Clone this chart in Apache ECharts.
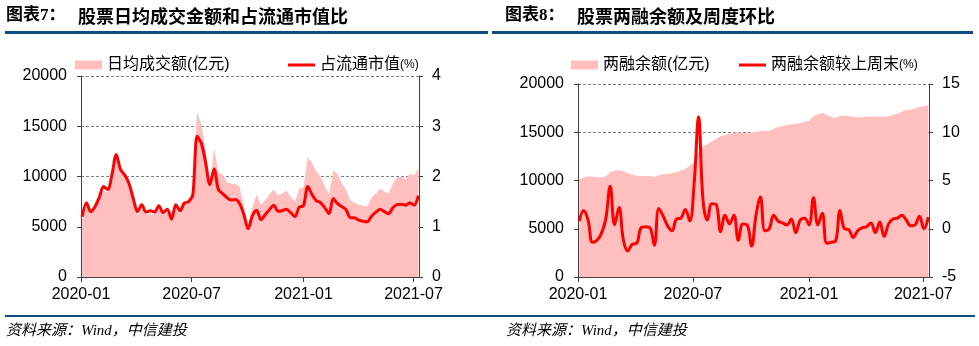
<!DOCTYPE html>
<html><head><meta charset="utf-8">
<script src="https://cdn.jsdelivr.net/npm/echarts@6/dist/echarts.min.js"></script>
<style>html,body{margin:0;padding:0;background:#fff}#c{width:979px;height:346px}</style>
</head><body><div id="c"></div>
<script>
// weekly observations, first Friday of 2020, 80 weeks
const weekStart = [2020, 0, 3];
const weekCount = 80;
const xTickLabels = ['2020-01', '2020-07', '2021-01', '2021-07'];

// Chart 7: 日均成交额 (亿元) and 占流通市值 (%)
const turnover = [5600,7100,6300,6800,7600,8600,8400,9800,11800,10500,
 9900,9100,7500,6100,6900,6200,6300,6200,6800,6200,
 6500,5600,6900,6400,7200,7500,8500,16400,15200,12600,
 9300,12800,10400,10200,9400,9300,9250,9000,7000,5000,
 7000,8200,7200,7600,8200,8700,8100,8300,8600,8000,
 7500,8800,8900,11900,11400,10500,10000,9000,8200,10600,
 10300,9300,8700,7600,7400,7200,7100,7000,7900,8300,
 8800,8500,8300,9300,9900,10000,9700,10300,10100,10800];
const turnoverPct = [1.2,1.48,1.3,1.4,1.58,1.8,1.74,2.04,2.44,2.14,
 2.03,1.86,1.56,1.3,1.44,1.29,1.32,1.29,1.42,1.28,
 1.35,1.15,1.44,1.32,1.47,1.5,1.64,2.8,2.66,2.28,
 1.84,2.15,1.74,1.66,1.58,1.53,1.54,1.46,1.24,0.96,
 1.22,1.33,1.14,1.24,1.34,1.43,1.31,1.32,1.35,1.28,
 1.2,1.39,1.42,1.8,1.64,1.52,1.48,1.38,1.26,1.56,
 1.46,1.4,1.34,1.18,1.18,1.13,1.11,1.1,1.21,1.29,
 1.35,1.3,1.26,1.38,1.44,1.45,1.43,1.48,1.43,1.62];

// Chart 8: 两融余额 (亿元) and 较上周末 (%)
const marginBalance = [10100,10300,10450,10400,10330,10330,10400,10900,11000,11100,
 10950,10750,10600,10500,10460,10460,10460,10350,10550,10650,
 10700,10750,10850,11000,11200,11500,11900,13000,13550,13750,
 14050,14300,14600,14700,14850,14950,14990,14900,14950,14950,
 15050,15150,15150,15160,15350,15550,15650,15750,15820,15850,
 15950,16100,16200,16650,16850,17020,16800,16600,16450,16700,
 16700,16680,16600,16550,16560,16600,16620,16600,16620,16600,
 16650,16800,16950,17150,17280,17350,17450,17650,17700,17820];
const marginWoW = [0.8,1.9,0.9,-1.4,-1.2,-0.5,1.0,4.4,0.4,2.2,
 -1.2,-2.3,-1.6,-1.5,0.1,0.2,0.1,-1.7,2.1,1.3,
 0.3,-0.2,1.0,1.1,2.0,0.8,4.7,11.6,3.0,0.9,
 2.6,2.5,-0.3,1.4,0.5,1.4,-1.2,0.5,0.4,-1.8,
 1.4,3.3,-0.2,0.0,1.4,0.8,0.6,0.4,1.0,-0.4,
 0.9,1.1,0.4,3.2,0.4,1.6,-1.5,-1.4,-1.3,1.9,
 0.0,-0.1,-0.9,-0.2,0.1,0.2,0.6,-0.4,0.7,-0.8,
 0.5,1.0,1.1,1.4,0.9,0.3,0.4,1.3,0.0,1.2];

// x axis in days since 2020-01-01
const DAY = 86400000;
const base = Date.UTC(2020, 0, 1);
const dayOf = (y, m, d) => Math.round((Date.UTC(y, m, d) - base) / DAY);
const w0 = dayOf(weekStart[0], weekStart[1], weekStart[2]);
const weeks = [];
for (let i = 0; i < weekCount; i++) weeks.push(w0 + i * 7);
const tickDays = xTickLabels.map(s => dayOf(+s.slice(0, 4), +s.slice(5, 7) - 1, 1));
const labelOf = v => { const k = tickDays.indexOf(Math.round(v)); return k >= 0 ? xTickLabels[k] : ''; };
const pair = arr => arr.map((v, i) => [weeks[i], v]);

const AX = '#404040';
const FONT = "'Liberation Sans', 'Noto Sans CJK SC', sans-serif";
const PINK = '#ffbfbf', RED = '#ff0000';
const xMin = 0, xMax = dayOf(2021, 6, 10);

function xAxis(gi) {
  return {
    type: 'value', gridIndex: gi, min: xMin, max: xMax,
    axisLine: { lineStyle: { color: AX, width: 1 } },
    axisTick: { show: true, length: 5, customValues: tickDays, lineStyle: { color: AX } },
    axisLabel: { customValues: tickDays, formatter: v => labelOf(v), color: '#000', fontSize: 16, fontFamily: FONT, margin: 10, hideOverlap: false },
    splitLine: { show: false }
  };
}
function yAxis(gi, pos, min, max, interval, grid) {
  return {
    type: 'value', gridIndex: gi, position: pos, min, max, interval,
    axisLine: { show: true, lineStyle: { color: AX, width: 1 } },
    axisTick: { show: true, length: 4, lineStyle: { color: AX } },
    axisLabel: { color: '#000', fontSize: 16, fontFamily: FONT, margin: pos === 'left' ? 14 : 13, formatter: v => String(v) },
    splitLine: grid ? { show: true, lineStyle: { color: '#7f7f7f', type: [3, 2], width: 1 } } : { show: false }
  };
}
function legend(name, left, h) {
  return {
    data: [name], left, top: 52, icon: 'rect', itemWidth: 27, itemHeight: h, selectedMode: false,
    formatter: n => n.replace('(%)', '{s|(%)}'),
    textStyle: { color: '#000', fontSize: 16, fontFamily: FONT, rich: { s: { fontSize: 12, fontFamily: FONT, color: '#000' } } }
  };
}

const chart = echarts.init(document.getElementById('c'), null, { renderer: 'canvas' });
chart.setOption({
  animation: false,
  backgroundColor: '#fff',
  grid: [
    { left: 81, top: 76, width: 338, height: 201 },
    { left: 578, top: 84, width: 351, height: 193 }
  ],
  xAxis: [xAxis(0), xAxis(1)],
  yAxis: [
    yAxis(0, 'left', 0, 20000, 5000, true),
    yAxis(0, 'right', 0, 4, 1, false),
    yAxis(1, 'left', 0, 20000, 5000, true),
    yAxis(1, 'right', -5, 15, 5, false)
  ],
  legend: [
    legend('日均成交额(亿元)', 70, 9),
    legend('占流通市值(%)', 283, 3),
    legend('两融余额(亿元)', 566, 9),
    legend('两融余额较上周末(%)', 734, 3)
  ],
  series: [
    { name: '日均成交额(亿元)', type: 'line', xAxisIndex: 0, yAxisIndex: 0, data: pair(turnover), symbol: 'none',
      lineStyle: { width: 0 }, itemStyle: { color: PINK }, areaStyle: { color: PINK, opacity: 1 } },
    { name: '占流通市值(%)', type: 'line', xAxisIndex: 0, yAxisIndex: 1, data: pair(turnoverPct), symbol: 'none', smooth: 0.3,
      lineStyle: { width: 3, color: RED }, itemStyle: { color: RED } },
    { name: '两融余额(亿元)', type: 'line', xAxisIndex: 1, yAxisIndex: 2, data: pair(marginBalance), symbol: 'none',
      lineStyle: { width: 0 }, itemStyle: { color: PINK }, areaStyle: { color: PINK, opacity: 1 } },
    { name: '两融余额较上周末(%)', type: 'line', xAxisIndex: 1, yAxisIndex: 3, data: pair(marginWoW), symbol: 'none', smooth: 0.4,
      lineStyle: { width: 3, color: RED }, itemStyle: { color: RED } }
  ],
  graphic: [
    { type: 'text', x: 6, y: 16, style: { text: '图表7：', font: "bold 17px 'Liberation Serif', 'Noto Sans CJK SC'", fill: '#000', verticalAlign: 'middle' } },
    { type: 'text', x: 78, y: 16, style: { text: '股票日均成交金额和占流通市值比', font: "bold 18px 'Noto Sans CJK SC'", fill: '#000', verticalAlign: 'middle' } },
    { type: 'text', x: 505, y: 16, style: { text: '图表8：', font: "bold 17px 'Liberation Serif', 'Noto Sans CJK SC'", fill: '#000', verticalAlign: 'middle' } },
    { type: 'text', x: 577, y: 16, style: { text: '股票两融余额及周度环比', font: "bold 18px 'Noto Sans CJK SC'", fill: '#000', verticalAlign: 'middle' } },
    { type: 'rect', shape: { x: 5, y: 31, width: 483, height: 3 }, style: { fill: '#0f4c81' } },
    { type: 'rect', shape: { x: 492, y: 31, width: 481, height: 3 }, style: { fill: '#0f4c81' } },
    { type: 'rect', shape: { x: 5, y: 315, width: 970, height: 2 }, style: { fill: '#0f4c81' } },
    { type: 'text', x: 6, y: 331, style: { text: '资料来源：Wind，中信建投', font: "italic 15px 'Liberation Serif', 'Noto Sans CJK SC'", fill: '#000', verticalAlign: 'middle' } },
    { type: 'text', x: 506, y: 331, style: { text: '资料来源：Wind，中信建投', font: "italic 15px 'Liberation Serif', 'Noto Sans CJK SC'", fill: '#000', verticalAlign: 'middle' } }
  ]
});
</script></body></html>
